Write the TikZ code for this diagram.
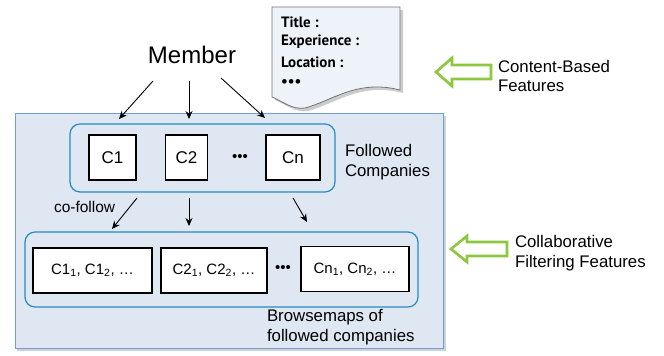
\documentclass[tikz,border=0pt]{standalone}
\usepackage{fontspec}
\usetikzlibrary{arrows.meta}
\setmainfont{Liberation Sans}
\newfontfamily\docfont{PT Sans}
\begin{document}
\begin{tikzpicture}[x=1pt,y=-1pt,
  every node/.style={inner sep=0pt, outer sep=0pt},
  lbl/.style={font=\fontsize{16.8}{19.5}\selectfont, align=left},
  cbox/.style={draw=black, line width=1.1pt, fill=white, minimum width=47pt, minimum height=45pt, font=\fontsize{17}{20}\selectfont},
  bbox/.style={draw=black, line width=1.1pt, fill=white, minimum height=45pt, font=\fontsize{15}{18}\selectfont},
  group/.style={draw={rgb,255:red,38;green,140;blue,190}, line width=1.2pt, rounded corners=10pt},
  arr/.style={-{Stealth[length=8pt,width=7pt]}, line width=0.9pt},
  hollow/.style={draw={rgb,255:red,141;green,198;blue,63}, line width=2.6pt, line join=miter, fill=white},
  doctext/.style={anchor=west, font=\docfont\bfseries\fontsize{15}{17}\selectfont},
  dots/.style={font=\fontsize{15}{18}\selectfont}
]
\useasboundingbox (0,0) rectangle (664,356);

% outer panel with soft shadow
\fill[black!18] (17,116) rectangle (446,351);
\node[draw={rgb,255:red,110;green,160;blue,215}, line width=1pt, fill={rgb,255:red,223;green,231;blue,242},
  minimum width=428pt, minimum height=235pt, anchor=north west] (panel) at (15,113) {};

% profile document
\fill[black!20] (275,10) -- (403,10) -- (403,93) .. controls (360,82) and (335,104) .. (308,111) .. controls (295,113) and (285,104) .. (275,100) -- cycle;
\draw[black!55, line width=0.8pt, fill={rgb,255:red,238;green,243;blue,250}]
  (272,7) -- (400,7) -- (400,90) .. controls (357,79) and (332,101) .. (305,108) .. controls (292,110) and (282,101) .. (272,97) -- cycle;
\node[doctext] (t1) at (281,22) {Title :};
\node[doctext] (t2) at (281,42) {Experience :};
\node[doctext] (t3) at (281,62) {Location :};
\node[doctext] (t4) at (281,83) {\textbullet\textbullet\textbullet};

% member
\node[font=\fontsize{24}{28}\selectfont] (member) at (192,55) {Member};

% followed companies
\node[group, minimum width=265pt, minimum height=68pt] (follow) at (202.5,158) {};
\node[cbox] (c1) at (112.5,157.5) {C1};
\node[cbox, minimum width=42pt] (c2) at (186.5,157.5) {C2};
\node[dots] (d1) at (240,158) {\textbullet\textbullet\textbullet};
\node[cbox, minimum width=54pt] (cn) at (293,157.5) {Cn};
\node[lbl, anchor=west] (ftxt) at (345,162) {Followed\\Companies};

% browsemaps
\node[group, minimum width=393pt, minimum height=75pt] (browse) at (221.5,269.5) {};
\node[bbox, minimum width=119pt] (b1) at (92.5,270.5) {C1\textsubscript{1}, C1\textsubscript{2}, \dots};
\node[bbox, minimum width=106pt] (b2) at (214,270.5) {C2\textsubscript{1}, C2\textsubscript{2}, \dots};
\node[dots] (d2) at (283,269) {\textbullet\textbullet\textbullet};
\node[bbox, minimum width=108pt] (bn) at (355,269) {Cn\textsubscript{1}, Cn\textsubscript{2}, \dots};
\node[lbl, anchor=west] (btxt) at (267,327) {Browsemaps of\\followed companies};

% arrow end points
\coordinate (m1) at (153,81); \coordinate (e1) at (119,119);
\coordinate (m2) at (189,81); \coordinate (e2) at (189,119);
\coordinate (m3) at (221,78); \coordinate (e3) at (265,118);
\coordinate (f1) at (137,198); \coordinate (g1) at (112,229);
\coordinate (f2) at (189,198); \coordinate (g2) at (189,226);
\coordinate (f3) at (293,198); \coordinate (g3) at (307,222);

\draw[arr] (m1) -- (e1);
\draw[arr] (m2) -- (e2);
\draw[arr] (m3) -- (e3);
\draw[arr] (f1) -- (g1);
\draw[arr] (f2) -- (g2);
\draw[arr] (f3) -- (g3);
\node[font=\fontsize{15.5}{18}\selectfont, anchor=west] (cof) at (54,207) {co-follow};

% feature annotations
\draw[hollow] (436,72) -- (452,58) -- (452,65) -- (491,65) -- (491,79) -- (452,79) -- (452,86) -- cycle;
\node[lbl, anchor=west] (cb) at (498,76) {Content-Based\\Features};
\draw[hollow] (451,249) -- (467,236) -- (467,242) -- (507,242) -- (507,256) -- (467,256) -- (467,262) -- cycle;
\node[lbl, anchor=west] (cf) at (515,253) {Collaborative\\Filtering Features};
\end{tikzpicture}
\end{document}
